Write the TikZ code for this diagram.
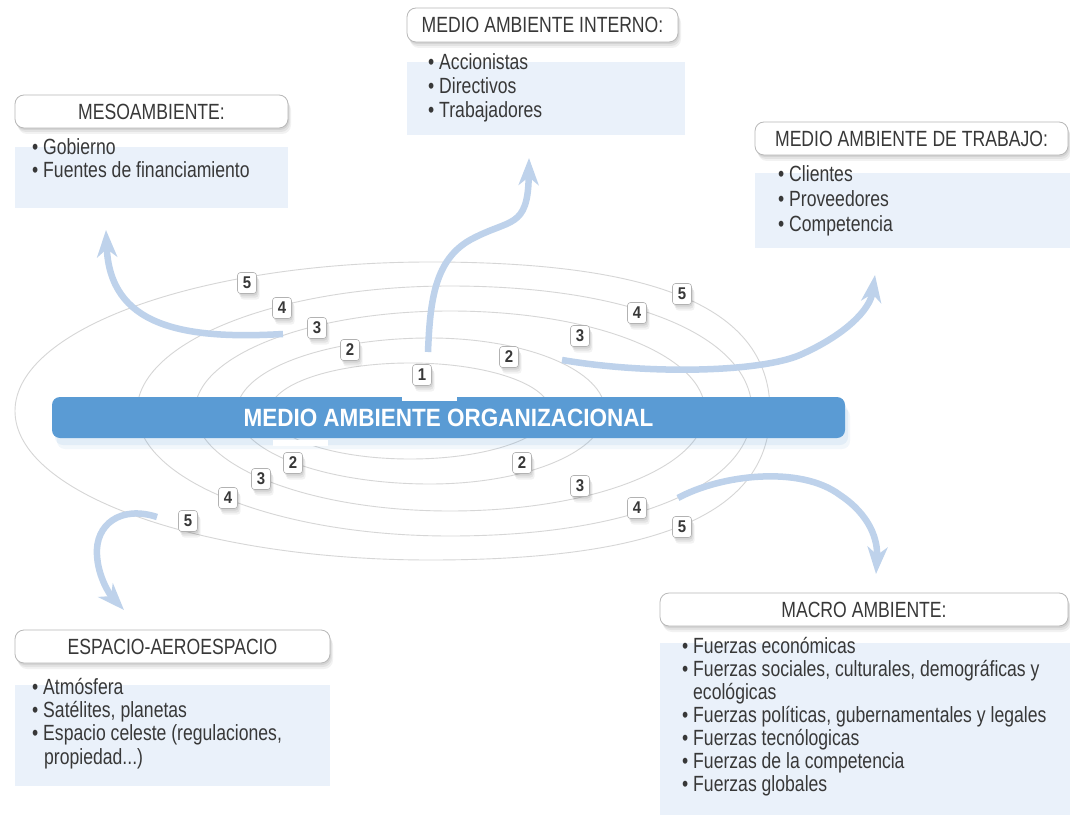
\documentclass[tikz,border=0pt]{standalone}
\usepackage{fontspec}
\setmainfont[FakeStretch=0.8]{Liberation Sans}
\newfontfamily\barfont[FakeStretch=0.9]{Liberation Sans Bold}
\newfontfamily\numfont[FakeStretch=0.88]{Liberation Sans Bold}
\usetikzlibrary{arrows.meta}
\definecolor{barblue}{HTML}{5A9BD4}
\definecolor{flowblue}{HTML}{BED2EB}
\definecolor{listfill}{HTML}{EAF1FA}
\definecolor{txt}{HTML}{383838}
\definecolor{ringgray}{HTML}{D6D6D6}
\newcommand\drawegg[5]{% xl, xa, xr, ry, kR ; cy = 411
  \pgfmathsetmacro\eggA{#2-0.552*(#2-#1)}%
  \pgfmathsetmacro\eggB{#2+#5*(#3-#2)}%
  \pgfmathsetmacro\eggC{0.552*#4}%
  \pgfmathsetmacro\eggD{#5*#4}%
  \draw[ring] (#1,411) .. controls (#1,411-\eggC) and (\eggA,411-#4) .. (#2,411-#4)
     .. controls (\eggB,411-#4) and (#3,411-\eggD) .. (#3,411)
     .. controls (#3,411+\eggD) and (\eggB,411+#4) .. (#2,411+#4)
     .. controls (\eggA,411+#4) and (#1,411+\eggC) .. (#1,411);
}
\tikzset{
  ring/.style={draw=ringgray, line width=0.9pt},
  flow/.style={draw=flowblue, line width=6.5pt, -{Stealth[length=27pt,width=20pt,inset=8pt]}},
  softshadow/.style={
    preaction={draw=none, fill=black, opacity=0.07, transform canvas={xshift=1pt,yshift=-2pt}},
    preaction={draw=none, fill=black, opacity=0.06, transform canvas={xshift=2pt,yshift=-4pt}},
    preaction={draw=none, fill=black, opacity=0.05, transform canvas={xshift=3pt,yshift=-6pt}}},
  hdr/.style={softshadow, draw=black!28, line width=0.8pt, fill=white, rounded corners=9pt,
    inner sep=0pt, text=txt, font=\fontsize{22}{24}\selectfont},
  listbox/.style={fill=listfill, draw=none, inner sep=0pt, anchor=north west},
  item/.style={anchor=base west, inner sep=0pt, text=txt, font=\fontsize{22}{24}\selectfont},
  num/.style={softshadow, draw=black!30, line width=0.6pt, fill=white, rounded corners=3pt,
    minimum width=19pt, minimum height=21pt, inner sep=0pt, text=txt,
    font=\numfont\fontsize{17}{17}\selectfont},
  bar/.style={fill=barblue, rounded corners=8pt, minimum width=793pt, minimum height=41pt,
    inner sep=0pt, text=white, font=\barfont\fontsize{25}{25}\selectfont,
    preaction={draw=none, fill=barblue, opacity=0.10, transform canvas={xshift=3pt,yshift=-7pt}},
    preaction={draw=none, fill=barblue, opacity=0.08, transform canvas={xshift=5pt,yshift=-11pt}}},
}
\begin{document}
\begin{tikzpicture}[x=1pt, y=-1pt]
\useasboundingbox (0,0) rectangle (1070,818);
\fill[white] (0,0) rectangle (1070,818);

% rings
\drawegg{15}{430}{770}{149}{0.68}
\drawegg{137}{450}{752}{125}{0.6}
\drawegg{195}{450}{705}{100}{0.56}
\drawegg{237}{430}{605}{73}{0.552}
\drawegg{270}{410}{550}{48}{0.552}

% arrow coordinates
\coordinate (a1s) at (283,334);
\coordinate (a1e) at (106,230);
\coordinate (a2s) at (428,352);
\coordinate (a2e) at (529,158);
\coordinate (a3s) at (562,360);
\coordinate (a3e) at (875,275);
\coordinate (a4s) at (678,498);
\coordinate (a4e) at (876,574);
\coordinate (a5s) at (157,517);
\coordinate (a5e) at (124,610);

\draw[flow] (a1s) .. controls (180,340) and (110,325) .. (a1e);
\draw[flow] (a2s) .. controls (430,300) and (435,260) .. (470,240)
   .. controls (510,218) and (528,230) .. (a2e);
\draw[flow] (a3s) .. controls (650,375) and (760,372) .. (800,355)
   .. controls (845,335) and (870,310) .. (a3e);
\draw[flow] (a4s) .. controls (720,475) and (800,465) .. (840,495)
   .. controls (870,515) and (878,540) .. (a4e);
\draw[flow] (a5s) .. controls (120,505) and (95,525) .. (97,555)
   .. controls (98,577) and (110,595) .. (a5e);

% central bar
\node[bar] (org) at (448.5,417.5) {MEDIO AMBIENTE ORGANIZACIONAL};
\fill[white] (402,394) rectangle (457,401);
\fill[white] (273,440) rectangle (328,446);

% ring numbers
\node[num] (tl5) at (247,283) {5};
\node[num] (tl4) at (282,308) {4};
\node[num] (tl3) at (317,328) {3};
\node[num] (tl2) at (350,350) {2};
\node[num] (t1) at (422,375) {1};
\node[num] (tr2) at (509,357) {2};
\node[num] (tr3) at (580,336) {3};
\node[num] (tr4) at (637,313) {4};
\node[num] (tr5) at (682,294) {5};
\node[num] (bl2) at (293,463) {2};
\node[num] (bl3) at (261,479) {3};
\node[num] (bl4) at (228,498) {4};
\node[num] (bl5) at (188,521) {5};
\node[num] (br2) at (522,463) {2};
\node[num] (br3) at (580,486) {3};
\node[num] (br4) at (637,508) {4};
\node[num] (br5) at (682,527) {5};

% MESOAMBIENTE
\node[listbox, minimum width=273pt, minimum height=61pt] (mesoL) at (15,147) {};
\node[hdr, minimum width=273pt, minimum height=33pt] (mesoH) at (151.5,111.5) {MESOAMBIENTE:};
\node[item] (meso1) at (32,155) {\textbullet\ Gobierno};
\node[item] (meso2) at (32,178) {\textbullet\ Fuentes de financiamiento};

% MEDIO AMBIENTE INTERNO
\node[listbox, minimum width=278pt, minimum height=73pt] (intL) at (407,62) {};
\node[hdr, minimum width=271pt, minimum height=34pt] (intH) at (542.5,25) {MEDIO AMBIENTE INTERNO:};
\node[item] (int1) at (428,70) {\textbullet\ Accionistas};
\node[item] (int2) at (428,94) {\textbullet\ Directivos};
\node[item] (int3) at (428,118) {\textbullet\ Trabajadores};

% MEDIO AMBIENTE DE TRABAJO
\node[listbox, minimum width=315pt, minimum height=75pt] (trabL) at (755,173) {};
\node[hdr, minimum width=313pt, minimum height=33pt] (trabH) at (911.5,138.5) {MEDIO AMBIENTE DE TRABAJO:};
\node[item] (trab1) at (778,182) {\textbullet\ Clientes};
\node[item] (trab2) at (778,207) {\textbullet\ Proveedores};
\node[item] (trab3) at (778,232) {\textbullet\ Competencia};

% ESPACIO-AEROESPACIO
\node[listbox, minimum width=315pt, minimum height=101pt] (espL) at (15,685) {};
\node[hdr, minimum width=315pt, minimum height=33pt] (espH) at (172.5,646.5) {ESPACIO-AEROESPACIO};
\node[item] (esp1) at (32,694) {\textbullet\ Atmósfera};
\node[item] (esp2) at (32,717) {\textbullet\ Satélites, planetas};
\node[item] (esp3) at (32,740) {\textbullet\ Espacio celeste (regulaciones,};
\node[item] (esp4) at (44,764) {propiedad...)};

% MACRO AMBIENTE
\node[listbox, minimum width=410pt, minimum height=172pt] (macL) at (660,643) {};
\node[hdr, minimum width=408pt, minimum height=33pt] (macH) at (864,609.5) {MACRO AMBIENTE:};
\node[item] (mac1) at (682,653) {\textbullet\ Fuerzas económicas};
\node[item] (mac2) at (682,676) {\textbullet\ Fuerzas sociales, culturales, demográficas y};
\node[item] (mac3) at (693,699) {ecológicas};
\node[item] (mac4) at (682,722) {\textbullet\ Fuerzas políticas, gubernamentales y legales};
\node[item] (mac5) at (682,745) {\textbullet\ Fuerzas tecnólogicas};
\node[item] (mac6) at (682,768) {\textbullet\ Fuerzas de la competencia};
\node[item] (mac7) at (682,791) {\textbullet\ Fuerzas globales};
\end{tikzpicture}
\end{document}
